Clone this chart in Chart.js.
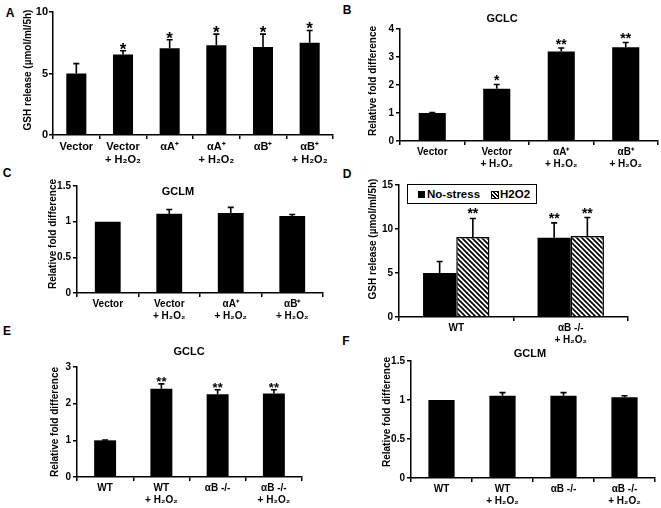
<!DOCTYPE html>
<html><head><meta charset="utf-8">
<script src="https://cdn.jsdelivr.net/npm/chart.js@4"></script>
<style>
body{margin:0;background:#fff;width:661px;height:508px;position:relative;overflow:hidden;font-family:'Liberation Sans',Arial,sans-serif;color:#000}
.box{position:absolute}
.t{position:absolute;white-space:nowrap;transform:translate(-50%,-50%);font-weight:bold;line-height:1}
.yt{position:absolute;white-space:nowrap;transform:translate(-50%,-50%) rotate(-90deg);font-size:10px;font-weight:bold;line-height:1}
.leg{position:absolute;left:407px;top:184px;width:128px;height:18px;border:1px solid #000;background:#fff;font-weight:bold;font-size:11.5px;line-height:18px}
.sw{position:absolute;top:6px;width:7px;height:7px}
</style></head><body>
<script>
// ---------- data ----------
const catsA = [['Vector'], ['Vector','+ H₂O₂'], ['αA⁺'], ['αA⁺','+ H₂O₂'], ['αB⁺'], ['αB⁺','+ H₂O₂']];
const valsA = [5.0, 6.55, 7.05, 7.3, 7.15, 7.5];
const errA  = [0.8, 0.3, 0.7, 0.9, 1.05, 1.0];
const sigA  = ['', '*', '*', '*', '*', '*'];
const ticksA = [0, 5, 10];

const catsB = [['Vector'], ['Vector','+ H₂O₂'], ['αA⁺','+ H₂O₂'], ['αB⁺','+ H₂O₂']];
const valsB = [1.0, 1.87, 3.2, 3.35];
const errB  = [0.02, 0.15, 0.12, 0.17];
const sigB  = ['', '*', '**', '**'];
const ticksB = [0, 1, 2, 3, 4];

const catsC = [['Vector'], ['Vector','+ H₂O₂'], ['αA⁺','+ H₂O₂'], ['αB⁺','+ H₂O₂']];
const valsC = [1.0, 1.11, 1.12, 1.08];
const errC  = [0, 0.06, 0.08, 0.02];
const ticksC = [0, 0.5, 1, 1.5];

const catsD = [['WT'], ['αB -/-','+ H₂O₂']];
const seriesD = ['No-stress', 'H2O2'];
const noStressD = [5.0, 9.0];
const errNoStressD = [1.3, 1.7];
const sigNoStressD = ['', '**'];
const h2o2D = [9.1, 9.2];
const errH2o2D = [2.1, 2.1];
const sigH2o2D = ['**', '**'];
const ticksD = [0, 5, 10, 15];

const catsE = [['WT'], ['WT','+ H₂O₂'], ['αB -/-'], ['αB -/-','+ H₂O₂']];
const valsE = [1.0, 2.41, 2.26, 2.28];
const errE  = [0.01, 0.13, 0.12, 0.1];
const sigE  = ['', '**', '**', '**'];
const ticksE = [0, 1, 2, 3];

const catsF = [['WT'], ['WT','+ H₂O₂'], ['αB -/-'], ['αB -/-','+ H₂O₂']];
const valsF = [1.0, 1.055, 1.055, 1.035];
const errF  = [0, 0.04, 0.04, 0.02];
const ticksF = [0, 0.5, 1, 1.5];

// ---------- rendering ----------
const FF = "'Liberation Sans', Arial, sans-serif";

const errPlugin = {
  id: 'errbars',
  afterDatasetsDraw(chart) {
    const ctx = chart.ctx, ys = chart.scales.y;
    const o = chart.options.plugins.errbars || {};
    chart.data.datasets.forEach((ds, di) => {
      const meta = chart.getDatasetMeta(di);
      meta.data.forEach((bar, i) => {
        const v = ds.data[i], e = (ds.errors || [])[i] || 0;
        const x = bar.x, yTop = ys.getPixelForValue(v + e);
        ctx.save();
        ctx.strokeStyle = '#000'; ctx.lineWidth = 1.6;
        if (e > 0) {
          ctx.beginPath();
          ctx.moveTo(x, bar.y); ctx.lineTo(x, yTop);
          ctx.moveTo(x - 3, yTop); ctx.lineTo(x + 3, yTop);
          ctx.stroke();
        }
        const s = (ds.stars || [])[i];
        if (s) {
          const fs = o.starSize || 12;
          ctx.fillStyle = '#000';
          ctx.font = 'bold ' + fs + 'px ' + FF;
          ctx.textAlign = 'center'; ctx.textBaseline = 'alphabetic';
          const m = ctx.measureText(s);
          const desc = m.actualBoundingBoxDescent || 0;
          ctx.fillText(s, x, yTop - (o.gap == null ? 2 : o.gap) - desc);
        }
        ctx.restore();
      });
    });
  }
};

function hatch() {
  const c = document.createElement('canvas'); c.width = c.height = 5;
  const g = c.getContext('2d');
  g.fillStyle = '#fff'; g.fillRect(0, 0, 5, 5);
  g.strokeStyle = '#000'; g.lineWidth = 1.7;
  g.beginPath();
  g.moveTo(-1, -1); g.lineTo(6, 6);
  g.moveTo(-1, 4); g.lineTo(1, 6);
  g.moveTo(4, -1); g.lineTo(6, 1);
  g.stroke();
  return g.createPattern(c, 'repeat');
}

function panel(rect, labels, datasets, ticks, o) {
  const yw = 30, pt = 10, pr = o.pr == null ? 6 : o.pr, xh = o.xh || 32;
  const left = rect.L - yw, top = rect.T - pt;
  const width = yw + (rect.R - rect.L) + pr, height = pt + (rect.B - rect.T) + xh;
  const div = document.createElement('div');
  div.className = 'box';
  div.style.cssText = `left:${left}px;top:${top}px;width:${width}px;height:${height}px`;
  const cv = document.createElement('canvas');
  cv.width = width; cv.height = height;
  cv.style.width = width + 'px'; cv.style.height = height + 'px';
  div.appendChild(cv); document.body.appendChild(div);
  const tickFont = { family: FF, weight: 'bold', size: o.fs || 10, lineHeight: 1.22 };
  new Chart(cv, {
    type: 'bar',
    data: { labels, datasets },
    plugins: [errPlugin],
    options: {
      responsive: false, animation: false, devicePixelRatio: 1,
      layout: { padding: { top: pt, right: pr, left: 0, bottom: 0 } },
      plugins: { legend: { display: false }, tooltip: { enabled: false },
        errbars: { starSize: o.star || 12, gap: o.gap } },
      scales: {
        x: {
          grid: { offset: true, drawOnChartArea: false, tickLength: 4, color: '#000', lineWidth: 1.5 },
          border: { color: '#000', width: 1.5 },
          ticks: { color: '#000', font: tickFont, padding: 1, autoSkip: false, maxRotation: 0, minRotation: 0 },
          afterFit(s) { s.height = xh; }
        },
        y: {
          min: ticks[0], max: ticks[ticks.length - 1],
          grid: { drawOnChartArea: false, tickLength: 4, color: '#000', lineWidth: 1.5 },
          border: { color: '#000', width: 1.5 },
          ticks: { color: '#000', font: tickFont, padding: o.ypad || 2, callback: v => String(v) },
          afterBuildTicks(s) { s.ticks = ticks.map(v => ({ value: v })); },
          afterFit(s) { s.width = yw; }
        }
      }
    }
  });
}

function blackBars(vals, errs, stars, bp) {
  return [{ data: vals, errors: errs, stars: stars || [], backgroundColor: '#000', borderWidth: 0,
            categoryPercentage: 1, barPercentage: bp }];
}

panel({ L: 53, T: 12, R: 333, B: 135 }, catsA, blackBars(valsA, errA, sigA, 0.43), ticksA, { fs: 11, star: 17, gap: 1, ypad: 1 });
panel({ L: 400, T: 29, R: 658, B: 141 }, catsB, blackBars(valsB, errB, sigB, 0.42), ticksB, { pr: 3, xh: 34, star: 14, gap: 3 });
panel({ L: 77, T: 186, R: 323, B: 293 }, catsC, blackBars(valsC, errC, [], 0.42), ticksC, {});
panel({ L: 399, T: 185, R: 628, B: 317 }, catsD, [
  { label: seriesD[0], data: noStressD, errors: errNoStressD, stars: sigNoStressD, backgroundColor: '#000', borderWidth: 0,
    categoryPercentage: 0.58, barPercentage: 1 },
  { label: seriesD[1], data: h2o2D, errors: errH2o2D, stars: sigH2o2D, backgroundColor: hatch(), borderColor: '#000', borderWidth: 1.5,
    categoryPercentage: 0.58, barPercentage: 1 }
], ticksD, { star: 14, gap: 4 });
panel({ L: 77, T: 367, R: 302, B: 477 }, catsE, blackBars(valsE, errE, sigE, 0.39), ticksE, { xh: 31, star: 13, gap: 2 });
panel({ L: 411, T: 361, R: 655, B: 478 }, catsF, blackBars(valsF, errF, [], 0.43), ticksF, { xh: 30 });

// ---------- text overlays ----------
function txt(cls, s, x, y, size) {
  const d = document.createElement('div');
  d.className = cls; d.textContent = s;
  d.style.left = x + 'px'; d.style.top = y + 'px';
  if (size) d.style.fontSize = size + 'px';
  document.body.appendChild(d);
}
// panel letters
txt('t', 'A', 10, 13, 12); txt('t', 'B', 347, 10, 12); txt('t', 'C', 7, 173, 12);
txt('t', 'D', 347, 174, 12); txt('t', 'E', 7, 331, 12); txt('t', 'F', 346, 341, 12);
// panel titles
txt('t', 'GCLC', 502, 18, 11); txt('t', 'GCLM', 178, 191, 11);
txt('t', 'GCLC', 189, 351, 11); txt('t', 'GCLM', 530, 353, 11);
// y-axis titles
txt('yt', 'GSH release (µmol/ml/5h)', 28, 70);
txt('yt', 'Relative fold difference', 373, 81);
txt('yt', 'Relative fold difference', 53, 234);
txt('yt', 'GSH release (µmol/ml/5h)', 373, 239);
txt('yt', 'Relative fold difference', 55, 422);
txt('yt', 'Relative fold difference', 387, 412);
</script>
<div class="leg">
  <div class="sw" style="left:10px;background:#000"></div>
  <div style="position:absolute;left:19px;top:0">No-stress</div>
  <div class="sw" style="left:83px;width:6px;height:6px;border:1px solid #000;background:repeating-linear-gradient(45deg,#fff 0 1.5px,#000 1.5px 3px)"></div>
  <div style="position:absolute;left:92px;top:0">H2O2</div>
</div>
</body></html>
